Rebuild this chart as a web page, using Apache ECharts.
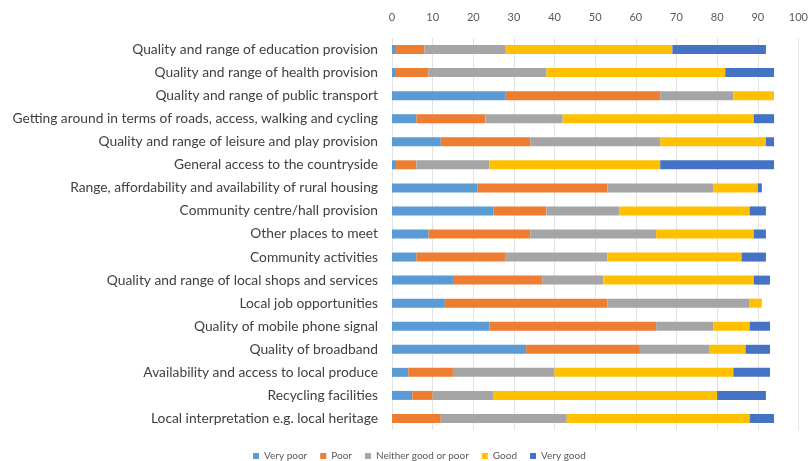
<!DOCTYPE html>
<html><head><meta charset="utf-8">
<script src="https://cdn.jsdelivr.net/npm/echarts@6/dist/echarts.min.js"></script>
<style>html,body{margin:0;padding:0;background:#fff}#c{width:811px;height:461px}</style>
</head><body><div id="c"></div>
<script>
const categories = [
  "Quality and range of education provision",
  "Quality and range of health provision",
  "Quality and range of public transport",
  "Getting around in terms of roads, access, walking and cycling",
  "Quality and range of leisure and play provision",
  "General access to the countryside",
  "Range, affordability and availability of rural housing",
  "Community centre/hall provision",
  "Other places to meet",
  "Community activities",
  "Quality and range of local shops and services",
  "Local job opportunities",
  "Quality of mobile phone signal",
  "Quality of broadband",
  "Availability and access to local produce",
  "Recycling facilities",
  "Local interpretation e.g. local heritage"
];
const veryPoor = [1, 1, 28, 6, 12, 1, 21, 25, 9, 6, 15, 13, 24, 33, 4, 5, 0];
const poor     = [7, 8, 38, 17, 22, 5, 32, 13, 25, 22, 22, 40, 41, 28, 11, 5, 12];
const neither  = [20, 29, 18, 19, 32, 18, 26, 18, 31, 25, 15, 35, 14, 17, 25, 15, 31];
const good     = [41, 44, 10, 47, 26, 42, 11, 32, 24, 33, 37, 3, 9, 9, 44, 55, 45];
const veryGood = [23, 12, 0, 5, 2, 28, 1, 4, 3, 6, 4, 0, 5, 6, 9, 12, 6];
const seriesNames = ["Very poor", "Poor", "Neither good or poor", "Good", "Very good"];
const colors = ["#5B9BD5", "#ED7D31", "#A5A5A5", "#FFC000", "#4472C4"];
const xTicks = [0, 10, 20, 30, 40, 50, 60, 70, 80, 90, 100];

const dataSets = [veryPoor, poor, neither, good, veryGood];
const chart = echarts.init(document.getElementById('c'), null, {renderer: 'canvas'});
chart.setOption({
  animation: false,
  color: colors,
  textStyle: {fontFamily: 'Lato'},
  grid: {left: 392, right: 8, top: 38, bottom: 31, containLabel: false},
  legend: {
    top: 446, left: 248,
    itemWidth: 6, itemHeight: 6, itemGap: 13,
    icon: 'rect',
    textStyle: {fontSize: 10, color: '#595959', fontFamily: 'Lato'},
    data: seriesNames
  },
  xAxis: {
    type: 'value', position: 'top', min: xTicks[0], max: xTicks[xTicks.length - 1], interval: 10,
    axisLine: {show: false}, axisTick: {show: false},
    axisLabel: {color: '#595959', fontSize: 11, margin: 15, fontFamily: 'Lato'},
    splitLine: {lineStyle: {color: '#E3E3E3', width: 1}}
  },
  yAxis: {
    type: 'category', data: categories, inverse: true,
    axisLine: {show: false}, axisTick: {show: false},
    axisLabel: {color: '#404040', fontSize: 13.8, margin: 14, fontFamily: 'Lato'}
  },
  series: dataSets.map((d, i) => ({
    name: seriesNames[i], type: 'bar', stack: 'total',
    barWidth: 9, data: d
  }))
});
</script></body></html>
